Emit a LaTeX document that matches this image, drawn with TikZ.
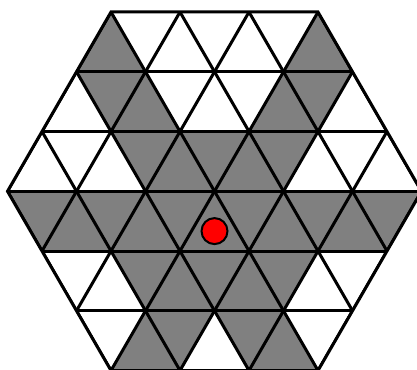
\documentclass[tikz,border=0pt]{standalone}
\definecolor{cellgray}{HTML}{808080}
\definecolor{dotred}{HTML}{FF0000}
\tikzset{
  cell/.style={fill=cellgray},
  gridline/.style={draw=black,line width=3pt},
  dotstyle/.style={circle,fill=dotred,draw=black,line width=2pt,minimum size=26pt,inner sep=0pt}
}
\begin{document}
\begin{tikzpicture}[x=1pt,y=-1pt]
\useasboundingbox (0,0) rectangle (417,369);
\foreach \k in {-3,...,15}{
  \foreach \r in {0,...,6}{
    \coordinate (p\k-\r) at ({7.5+34.5*\k},{12+59.756*\r});
  }
}
% shaded cells
\fill[cell] (p3-0) -- (p2-1) -- (p4-1) -- cycle;
\fill[cell] (p9-0) -- (p8-1) -- (p10-1) -- cycle;
\fill[cell] (p3-2) -- (p2-1) -- (p4-1) -- cycle;
\fill[cell] (p4-1) -- (p3-2) -- (p5-2) -- cycle;
\fill[cell] (p8-1) -- (p7-2) -- (p9-2) -- cycle;
\fill[cell] (p9-2) -- (p8-1) -- (p10-1) -- cycle;
\fill[cell] (p3-2) -- (p9-2) -- (p8-3) -- (p4-3) -- cycle;
\fill[cell] (p0-3) -- (p12-3) -- (p11-4) -- (p1-4) -- cycle;
\fill[cell] (p3-4) -- (p9-4) -- (p8-5) -- (p4-5) -- cycle;
\fill[cell] (p4-5) -- (p3-6) -- (p5-6) -- cycle;
\fill[cell] (p5-6) -- (p4-5) -- (p6-5) -- cycle;
\fill[cell] (p7-6) -- (p6-5) -- (p8-5) -- cycle;
\fill[cell] (p8-5) -- (p7-6) -- (p9-6) -- cycle;
% grid
\begin{scope}
\clip (p3-0) -- (p9-0) -- (p12-3) -- (p9-6) -- (p3-6) -- (p0-3) -- cycle;
\foreach \r in {1,...,5}{
  \draw[gridline] (p-3-\r) -- (p15-\r);
}
\foreach \k [evaluate=\k as \a using int(\k-3), evaluate=\k as \b using int(\k+3)] in {0,2,...,12}{
  \draw[gridline] (p\a-0) -- (p\b-6);
  \draw[gridline] (p\b-0) -- (p\a-6);
}
\end{scope}
\draw[gridline] (p3-0) -- (p9-0) -- (p12-3) -- (p9-6) -- (p3-6) -- (p0-3) -- cycle;
\node[dotstyle] (dot) at ({7.5+34.5*6},{12+59.756*3+39.84}) {};
\end{tikzpicture}
\end{document}
